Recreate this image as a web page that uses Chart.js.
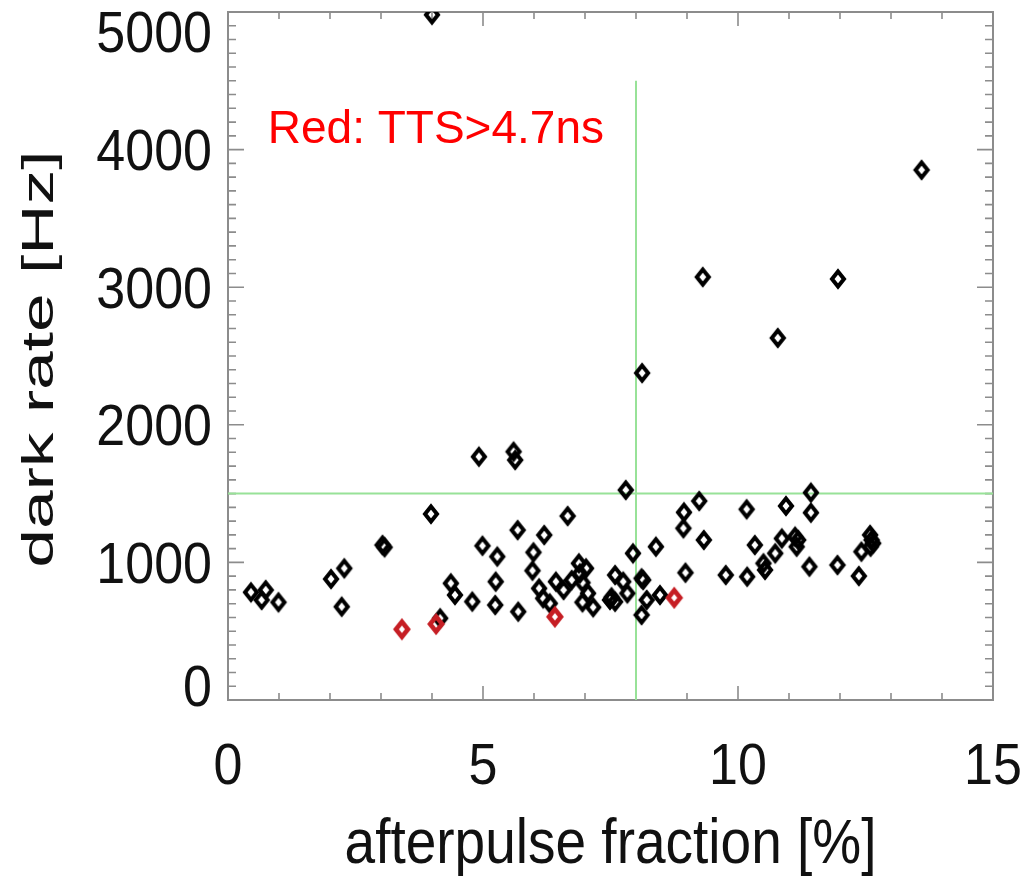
<!DOCTYPE html>
<html>
<head>
<meta charset="utf-8">
<script src="https://cdn.jsdelivr.net/npm/chart.js@4.4.1/dist/chart.umd.min.js"></script>
<style>
  body { margin: 0; background: #fff; }
  canvas { display: block; }
</style>
</head>
<body>
<canvas id="grafico" width="1022" height="876"></canvas>
<script>
// afterpulse fraction [%] x dark rate [Hz]
const afterpulsePreto = [0.45, 0.74, 0.66, 0.99, 2.02, 2.28, 2.23, 3.03, 3.07, 3.98,
  4.16, 4.37, 4.45, 4.79, 4.99, 5.28, 5.25, 5.24, 4.92, 5.60,
  5.63, 5.68, 5.69, 6.20, 6.66, 5.99, 5.97, 6.10, 6.18, 6.31,
  6.43, 6.58, 6.74, 6.88, 7.02, 6.90, 6.95, 7.06, 6.95, 7.16,
  7.59, 7.75, 7.83, 7.49, 7.59, 7.52, 7.80, 7.94, 8.11, 8.14,
  8.21, 8.11, 8.39, 8.47, 8.94, 9.24, 8.93, 9.33, 8.97, 9.76,
  10.17, 10.18, 10.33, 10.50, 10.53, 10.73, 10.86, 10.94, 11.12, 11.15,
  11.18, 11.43, 11.43, 11.40, 11.95, 12.37, 12.42, 12.59, 12.62, 12.65,
  12.60, 4.00, 13.60, 11.96, 10.78, 9.31, 8.12];
const darkRatePreto = [783, 799, 727, 710, 879, 957, 678, 1126, 1110, 1352,
  594, 848, 763, 715, 1121, 1042, 860, 690, 1768, 1805,
  1744, 1235, 642, 1199, 1337, 1073, 940, 811, 739, 702,
  860, 799, 872, 993, 957, 920, 853, 775, 710, 674,
  908, 860, 775, 727, 714, 746, 1526, 1066, 884, 872,
  727, 618, 1114, 763, 1364, 1446, 1248, 1163, 925, 908,
  1386, 896, 1126, 993, 945, 1066, 1174, 1410, 1187, 1114,
  1163, 1507, 1361, 969, 981, 901, 1078, 1200, 1163, 1139,
  1114, 4980, 3852, 3060, 2631, 3074, 2376];
// TTS > 4.7 ns
const afterpulseVermelho = [3.41, 4.08, 6.41, 8.75];
const darkRateVermelho = [514, 552, 605, 743];

const corteAfterpulse = 8;
const corteDarkRate = 1500;
const topoLinhaVertical = 4500;

const xTicks = [0, 5, 10, 15];
const yTicks = [0, 1000, 2000, 3000, 4000, 5000];
const tituloX = "afterpulse fraction [%]";
const tituloY = "dark rate [Hz]";
const nota = "Red: TTS>4.7ns";

const FONTE = "'Liberation Sans', Arial, sans-serif";

function losango(cor, lw) {
  const c = document.createElement("canvas");
  c.width = 24; c.height = 26;
  const ctx = c.getContext("2d");
  ctx.strokeStyle = cor;
  ctx.lineWidth = lw;
  ctx.beginPath();
  ctx.moveTo(12, 5.5); ctx.lineTo(18, 13); ctx.lineTo(12, 20.5); ctx.lineTo(6, 13);
  ctx.closePath();
  ctx.stroke();
  return c;
}

const pontos = (xs, ys) => xs.map((x, i) => ({ x, y: ys[i] }));

// texto esticado (a figura original foi esticada na vertical)
function texto(ctx, s, x, y, sx, sy, ang) {
  ctx.save();
  ctx.translate(x, y);
  if (ang) ctx.rotate(ang);
  ctx.scale(sx, sy);
  ctx.fillText(s, 0, 0);
  ctx.restore();
}

const eixosIDL = {
  id: "eixosIDL",
  beforeDatasetsDraw(chart) {
    const { ctx, chartArea: a, scales: { x, y } } = chart;
    ctx.save();
    ctx.strokeStyle = "#8c8c8c";
    ctx.lineWidth = 2;
    ctx.strokeRect(a.left, a.top, a.right - a.left, a.bottom - a.top);
    ctx.lineWidth = 1.6;
    ctx.beginPath();
    for (let v = 0; v <= 15; v++) {
      const px = x.getPixelForValue(v);
      const len = v % 5 === 0 ? 14 : 7;
      ctx.moveTo(px, a.bottom); ctx.lineTo(px, a.bottom - len);
      ctx.moveTo(px, a.top); ctx.lineTo(px, a.top + len);
    }
    for (let v = 0; v <= 5000; v += 100) {
      const py = y.getPixelForValue(v);
      const len = v % 1000 === 0 ? 16 : 8;
      ctx.moveTo(a.left, py); ctx.lineTo(a.left + len, py);
      ctx.moveTo(a.right, py); ctx.lineTo(a.right - len, py);
    }
    ctx.stroke();
    ctx.restore();
  },
  afterDraw(chart) {
    const { ctx, chartArea: a, scales: { x, y } } = chart;
    ctx.save();
    ctx.fillStyle = "#111";
    ctx.textBaseline = "alphabetic";

    // rotulos do eixo x
    ctx.font = `52px ${FONTE}`;
    ctx.textAlign = "center";
    xTicks.forEach(v => texto(ctx, String(v), x.getPixelForValue(v), a.bottom + 84, 1, 1.1));

    // rotulos do eixo y
    ctx.textAlign = "right";
    yTicks.forEach(v => {
      const centro = Math.min(Math.max(y.getPixelForValue(v), a.top + 19), a.bottom - 15);
      texto(ctx, String(v), a.left - 16, centro + 20.5, 1, 1.1);
    });

    // titulos
    ctx.textAlign = "center";
    ctx.font = `55px ${FONTE}`;
    texto(ctx, tituloX, (a.left + a.right) / 2, 863, 1, 1.15);
    ctx.font = `44px ${FONTE}`;
    texto(ctx, tituloY, 53, (a.top + a.bottom) / 2 + 3, 1.58, 1, -Math.PI / 2);

    // nota em vermelho
    ctx.fillStyle = "#ff0000";
    ctx.textAlign = "left";
    ctx.font = `46px ${FONTE}`;
    ctx.fillText(nota, x.getPixelForValue(0.78), y.getPixelForValue(4050));
    ctx.restore();
  }
};

new Chart(document.getElementById("grafico").getContext("2d"), {
  type: "scatter",
  data: {
    datasets: [
      { label: "TTS>4.7ns", data: pontos(afterpulseVermelho, darkRateVermelho), pointStyle: losango("#c61e24", 4.6), pointRadius: 8, clip: 0, order: 0 },
      { label: "PMTs", data: pontos(afterpulsePreto, darkRatePreto), pointStyle: losango("#000", 4), pointRadius: 8, clip: 0, order: 1 },
      { label: "corte afterpulse", data: [{ x: corteAfterpulse, y: 0 }, { x: corteAfterpulse, y: topoLinhaVertical }],
        showLine: true, borderColor: "#98e298", borderWidth: 2, pointRadius: 0, order: 3 },
      { label: "corte dark rate", data: [{ x: 0, y: corteDarkRate }, { x: 15, y: corteDarkRate }],
        showLine: true, borderColor: "#98e298", borderWidth: 2, pointRadius: 0, order: 3 }
    ]
  },
  options: {
    responsive: false,
    animation: false,
    layout: { padding: { left: 228, right: 29, top: 12, bottom: 176 } },
    plugins: { legend: { display: false }, tooltip: { enabled: false } },
    scales: {
      x: { type: "linear", min: 0, max: 15, display: false },
      y: { type: "linear", min: 0, max: 5000, display: false }
    }
  },
  plugins: [eixosIDL]
});
</script>
</body>
</html>
